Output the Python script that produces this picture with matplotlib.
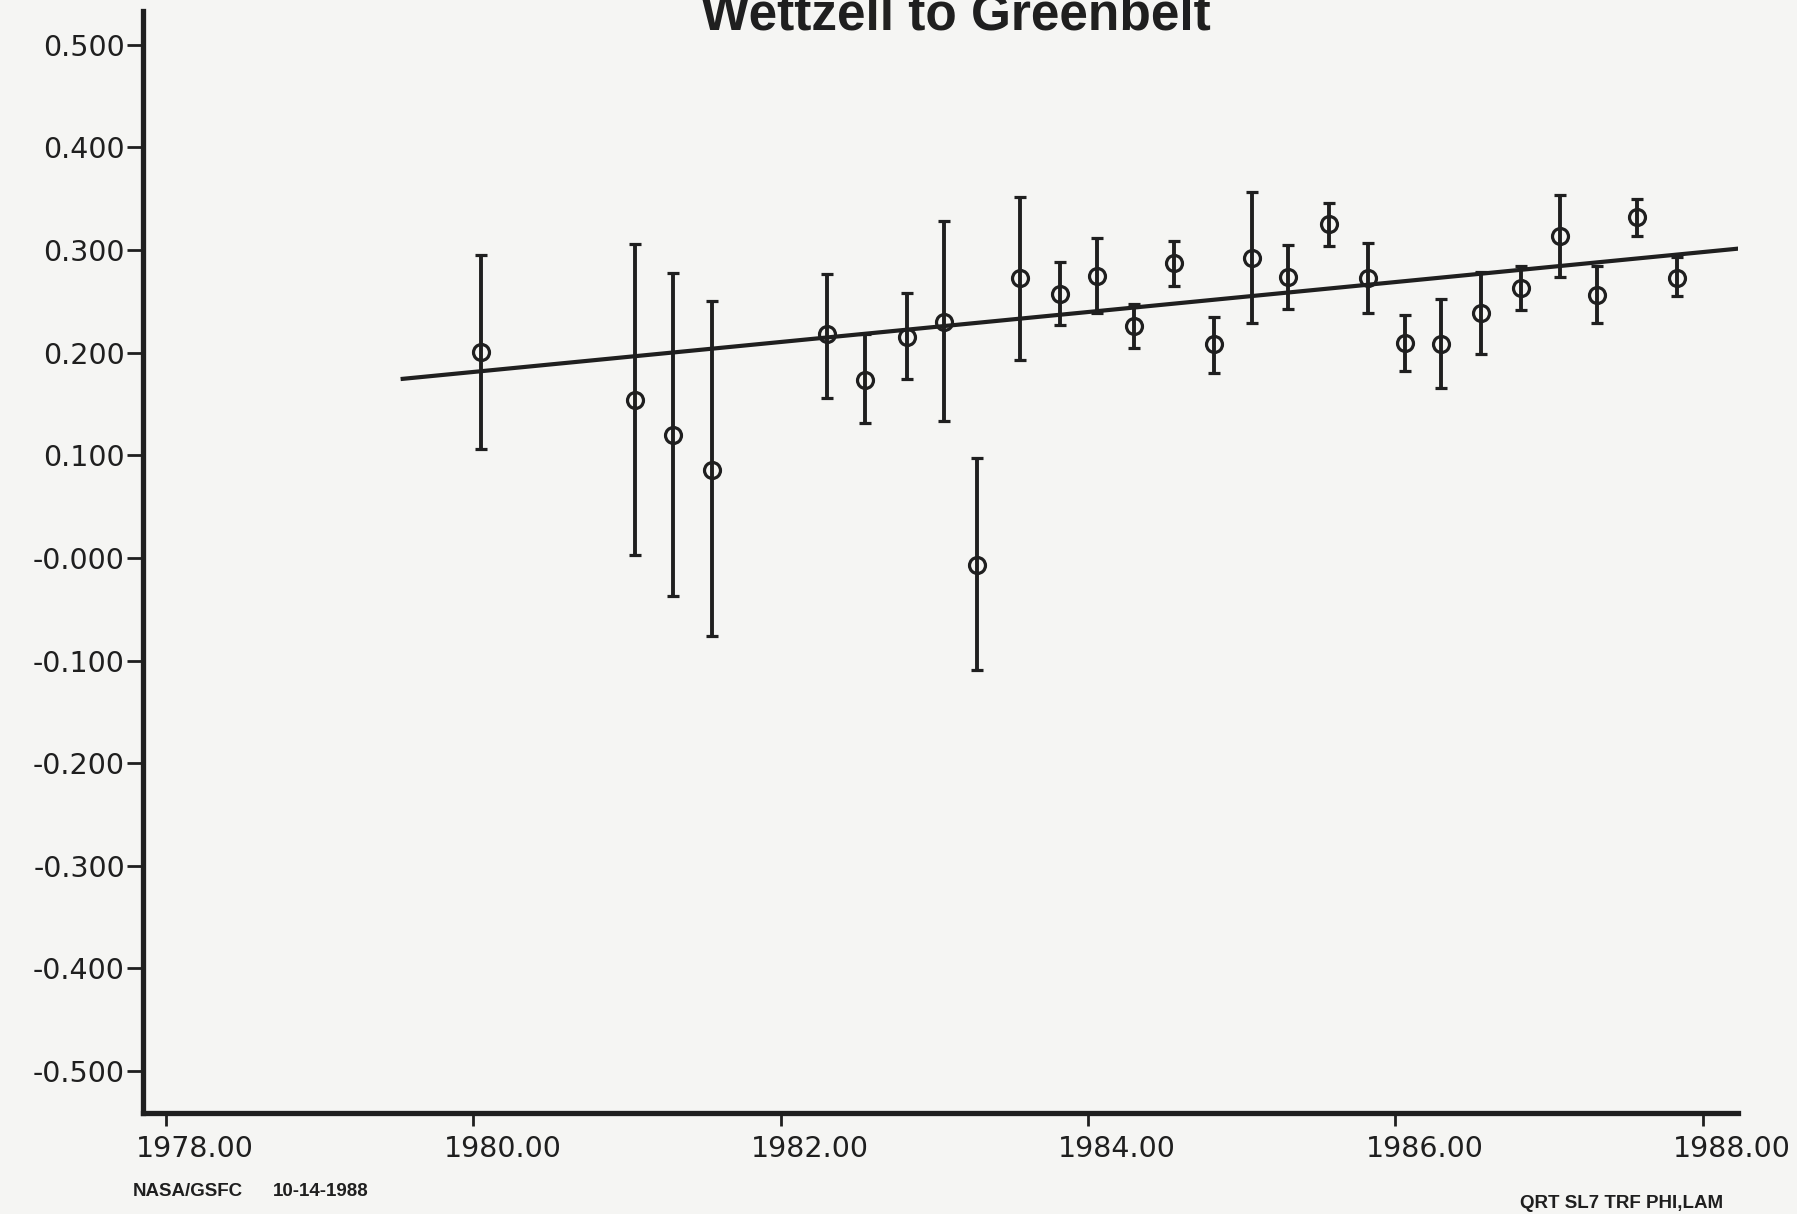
# Wettzell to Greenbelt - baseline component time series (scanned NASA/GSFC plot)

import numpy as np
import matplotlib
matplotlib.use('Agg')
import matplotlib.pyplot as plt
from matplotlib.transforms import ScaledTranslation

# epochs (years) and estimates
anos = [1980.05, 1981.05, 1981.30, 1981.55, 1982.30, 1982.55, 1982.82, 1983.06, 1983.28,
        1983.56, 1983.82, 1984.06, 1984.30, 1984.56, 1984.82, 1985.07, 1985.30, 1985.57,
        1985.82, 1986.06, 1986.30, 1986.56, 1986.82, 1987.07, 1987.31, 1987.57, 1987.83]
valores = [0.201, 0.154, 0.120, 0.086, 0.218, 0.173, 0.215, 0.230, -0.007,
           0.273, 0.257, 0.275, 0.226, 0.287, 0.208, 0.292, 0.274, 0.325,
           0.273, 0.209, 0.208, 0.239, 0.263, 0.314, 0.256, 0.332, 0.273]
# lower / upper error bar ends
lim_inf = [0.106, 0.003, -0.037, -0.076, 0.156, 0.131, 0.174, 0.133, -0.109,
           0.193, 0.227, 0.239, 0.205, 0.265, 0.180, 0.229, 0.243, 0.304,
           0.239, 0.182, 0.166, 0.199, 0.242, 0.274, 0.229, 0.314, 0.255]
lim_sup = [0.295, 0.306, 0.278, 0.250, 0.277, 0.218, 0.258, 0.328, 0.097,
           0.352, 0.288, 0.312, 0.247, 0.309, 0.235, 0.357, 0.305, 0.346,
           0.307, 0.237, 0.252, 0.279, 0.284, 0.354, 0.284, 0.350, 0.293]

# fitted line (end points)
reta_anos = [1979.54, 1988.34]
reta_vals = [0.1745, 0.303]

x_ticks = [1978, 1980, 1982, 1984, 1986, 1988]
x_labels = ['1978.00', '1980.00', '1982.00', '1984.00', '1986.00', '1988.00']
y_ticks = [0.5, 0.4, 0.3, 0.2, 0.1, 0.0, -0.1, -0.2, -0.3, -0.4, -0.5]
y_labels = ['0.500', '0.400', '0.300', '0.200', '0.100', '-0.000',
            '-0.100', '-0.200', '-0.300', '-0.400', '-0.500']

cor = '#1f1f1f'
fundo = '#f5f5f3'

fig = plt.figure(figsize=(17.97, 12.14), dpi=100, facecolor=fundo)
ax = fig.add_axes([143/1797, 1 - 1113/1214, (1738 - 143)/1797, (1113 - 11)/1214])
ax.set_facecolor(fundo)

v = np.array(valores)
err = [v - np.array(lim_inf), np.array(lim_sup) - v]
ax.errorbar(anos, v, yerr=err, fmt='o', mfc='none', mec=cor, mew=2.3, ms=11.5,
            ecolor=cor, elinewidth=2.8, capsize=4.5, capthick=3.0, color=cor, zorder=3)
ax.plot(reta_anos, reta_vals, color=cor, lw=3.0, zorder=2)

ax.set_xlim(1977.85, 1988.23)
ax.set_ylim(-0.541, 0.533)

for s in ['top', 'right']:
    ax.spines[s].set_visible(False)
for s in ['left', 'bottom']:
    ax.spines[s].set_linewidth(3.8)
    ax.spines[s].set_color(cor)
    ax.spines[s].set_capstyle('projecting')

ax.set_xticks(x_ticks)
ax.set_xticklabels(x_labels)
ax.set_yticks(y_ticks)
ax.set_yticklabels(y_labels)
ax.tick_params(axis='x', direction='out', length=9.5, width=2.0, color=cor,
               pad=6, labelsize=20.5, labelcolor=cor)
ax.tick_params(axis='y', direction='out', length=11.5, width=2.0, color=cor,
               pad=1.5, labelsize=20.5, labelcolor=cor)
for lab in ax.get_xticklabels() + ax.get_yticklabels():
    lab.set_family('DejaVu Sans')

# x labels sit a bit to the right of their ticks
desloc = ScaledTranslation(21/72, 0, fig.dpi_scale_trans)
for lab in ax.get_xticklabels():
    lab.set_transform(lab.get_transform() + desloc)

fig.text(956/1797, 1 - 29/1214, 'Wettzell to Greenbelt', ha='center', va='baseline',
         fontsize=37, fontweight='bold', family='Liberation Sans', color=cor)

fig.text(133/1797, 1 - 1196/1214, 'NASA/GSFC', ha='left', va='baseline',
         fontsize=13.5, fontweight='bold', family='Liberation Sans', color=cor)
fig.text(273/1797, 1 - 1196/1214, '10-14-1988', ha='left', va='baseline',
         fontsize=13.5, fontweight='bold', family='Liberation Sans', color=cor)
fig.text(1723/1797, 1 - 1208/1214, 'QRT SL7 TRF PHI,LAM', ha='right', va='baseline',
         fontsize=13.5, fontweight='bold', family='Liberation Sans', color=cor)

fig.savefig('out.png', dpi=100, facecolor=fig.get_facecolor())
